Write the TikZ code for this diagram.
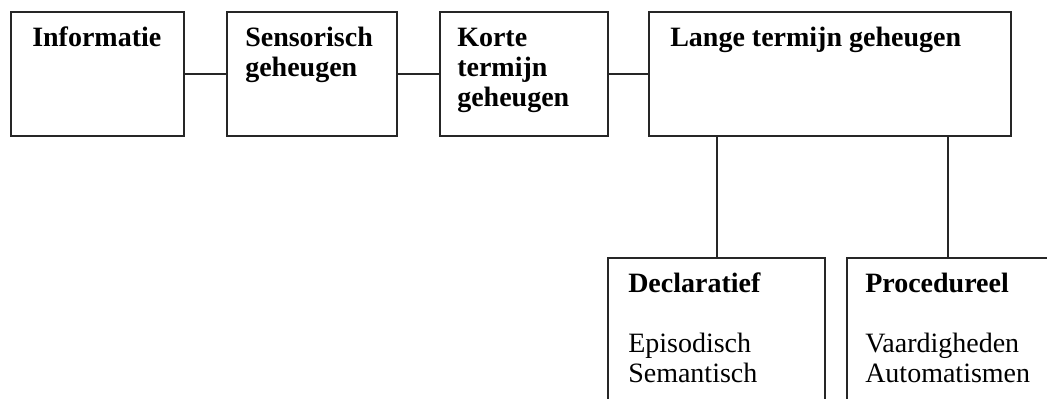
\documentclass[tikz,border=0pt]{standalone}
\usepackage{fontspec}
\setmainfont{Liberation Serif}
\begin{document}
\begin{tikzpicture}[x=0.75pt,y=-0.75pt,
  box/.style={draw=black!85, line width=1.5pt, rectangle, inner sep=0pt},
  txt/.style={anchor=base west, inner sep=0pt, font=\fontsize{21pt}{22.5pt}\selectfont},
  conn/.style={draw=black!85, line width=1.5pt}]
\useasboundingbox (0,0) rectangle (1047,399);
\clip (0,0) rectangle (1047,399);
% boxes
\node[box, minimum width={173*0.75pt}, minimum height={124*0.75pt}] (A) at (97.5,74) {};
\node[box, minimum width={170*0.75pt}, minimum height={124*0.75pt}] (B) at (312,74) {};
\node[box, minimum width={168*0.75pt}, minimum height={124*0.75pt}] (C) at (524,74) {};
\node[box, minimum width={362*0.75pt}, minimum height={124*0.75pt}] (D) at (830,74) {};
\node[box, minimum width={217*0.75pt}, minimum height={162*0.75pt}] (E) at (716.5,339) {};
\node[box, minimum width={202*0.75pt}, minimum height={162*0.75pt}] (F) at (948,339) {};
% texts
\node[txt] (tA) at (32,47) {\bfseries Informatie};
\node[txt] (tB) at (245,47) {\parbox[t]{6cm}{\bfseries Sensorisch\\geheugen}};
\node[txt] (tC) at (457,47) {\parbox[t]{6cm}{\bfseries Korte\\termijn\\geheugen}};
\node[txt] (tD) at (670,47) {\bfseries Lange termijn geheugen};
\node[txt] (tE) at (628,292) {\parbox[t]{6cm}{\textbf{Declaratief}\\[22.5pt]Episodisch\\Semantisch}};
\node[txt] (tF) at (865,292) {\parbox[t]{6cm}{\textbf{Procedureel}\\[22.5pt]Vaardigheden\\Automatismen}};
% connectors
\draw[conn] (A.east) -- (B.west);
\draw[conn] (B.east) -- (C.west);
\draw[conn] (C.east) -- (D.west);
\draw[conn] (E.north) -- (E.north |- D.south);
\draw[conn] (F.north) -- (F.north |- D.south);
\end{tikzpicture}
\end{document}
